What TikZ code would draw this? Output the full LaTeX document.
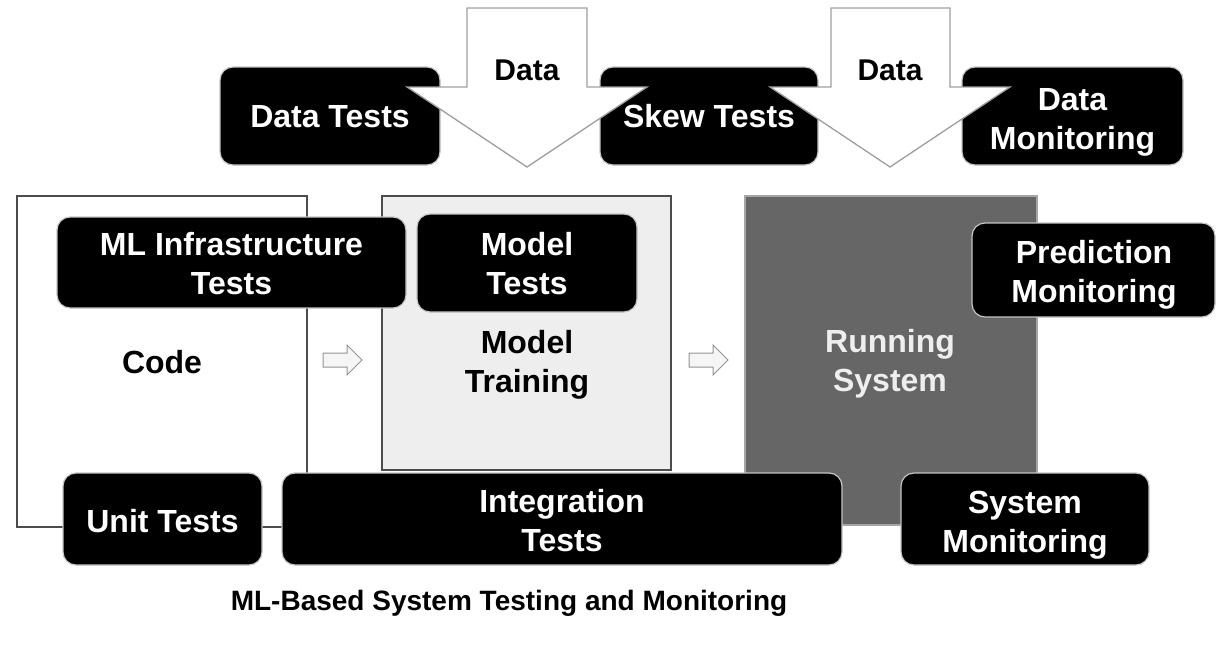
\documentclass[tikz,border=0pt]{standalone}
\usepackage{fontspec}
\setmainfont{Liberation Sans}
\definecolor{stagegray}{HTML}{666666}
\definecolor{paleg}{HTML}{EEEEEE}
\tikzset{
  tag/.style={rounded corners=13pt, fill=black, draw=gray!45, line width=1.2pt,
    text=white, font=\bfseries\fontsize{32}{39}\selectfont, align=center, inner sep=0pt},
  tagtext/.style={text=white, font=\bfseries\fontsize{32}{39}\selectfont, align=center, inner sep=0pt},
  stage/.style={draw=black!70, line width=1.3pt, inner sep=0pt,
    font=\bfseries\fontsize{32}{39}\selectfont, align=center},
  lbl/.style={font=\bfseries\fontsize{32}{39}\selectfont, align=center, inner sep=0pt},
  bigarrow/.style={draw=gray!75, line width=1.3pt, fill=white},
  smallarrow/.style={draw=gray!85, line width=1pt, fill=gray!8},
}
\begin{document}
\begin{tikzpicture}[x=1pt,y=-1pt]
\useasboundingbox (0,0) rectangle (1217,648);

% pipeline stages
\node[stage, fill=white, minimum width=290pt, minimum height=331pt] (code) at (162,361.5) {};
\node[lbl] (codelbl) at ([yshift=-1pt]code.center) {Code};
\node[stage, fill=paleg, minimum width=289pt, minimum height=274pt] (train) at (526.5,333) {};
\node[lbl] (trainlbl) at (527,365) {Model\\Training};
\node[stage, draw=gray!70, fill=stagegray, minimum width=292pt, minimum height=329pt] (run) at (891,360.5) {};
\node[lbl, text=paleg] (runlbl) at (890,364) {Running\\System};

% flow arrows between stages
\draw[smallarrow] (323,353) -- (347,353) -- (347,345) -- (362,360) -- (347,375) -- (347,367) -- (323,367) -- cycle;
\draw[smallarrow] (689,353) -- (713,353) -- (713,345) -- (728,360) -- (713,375) -- (713,367) -- (689,367) -- cycle;

% tests and monitoring attached to the stages
\node[tag, minimum width=349pt, minimum height=91pt] (infra) at (231.5,262.5) {};
\node[tagtext] (infralbl) at (231.5,264) {ML Infrastructure\\Tests};
\node[tag, minimum width=220pt, minimum height=98pt] (mtests) at (527,263) {};
\node[tagtext] (mtestslbl) at (527,264) {Model\\Tests};
\node[tag, minimum width=243pt, minimum height=94pt] (predmon) at (1093.5,270) {};
\node[tagtext] (predmonlbl) at (1094,275) {Prediction\\Monitoring};
\node[tag, minimum width=199pt, minimum height=92pt] (unit) at (162.5,519) {};
\node[tagtext] (unitlbl) at (162.5,521) {Unit Tests};
\node[tag, minimum width=560pt, minimum height=92pt] (integ) at (562,519) {};
\node[tagtext] (integlbl) at (562,520.5) {Integration\\Tests};
\node[tag, minimum width=248pt, minimum height=92pt] (sysmon) at (1025,519) {};
\node[tagtext] (sysmonlbl) at (1025,525) {System\\Monitoring};

% data-side checks
\node[tag, minimum width=220pt, minimum height=98pt] (dtests) at (330,116) {};
\node[tagtext] (dtestslbl) at (330,116.5) {Data Tests};
\node[tag, minimum width=218pt, minimum height=98pt] (skew) at (709,116) {};
\node[tagtext] (skewlbl) at (709,116) {Skew Tests};
\node[tag, minimum width=221pt, minimum height=98pt] (datamon) at (1072.5,116) {};
\node[tagtext] (datamonlbl) at (1072.5,122) {Data\\Monitoring};

% incoming data
\draw[bigarrow] (467,8) -- (587,8) -- (587,87) -- (647,87) -- (527,167) -- (407,87) -- (467,87) -- cycle;
\draw[bigarrow] (831,8) -- (950,8) -- (950,87) -- (1010,87) -- (890,167) -- (770,87) -- (831,87) -- cycle;
\node[font=\bfseries\fontsize{30}{36}\selectfont] (data1) at (527,70) {Data};
\node[font=\bfseries\fontsize{30}{36}\selectfont] (data2) at (890,70) {Data};

% caption
\node[font=\bfseries\fontsize{28}{34}\selectfont] (title) at (509,603) {ML-Based System Testing and Monitoring};
\end{tikzpicture}
\end{document}
